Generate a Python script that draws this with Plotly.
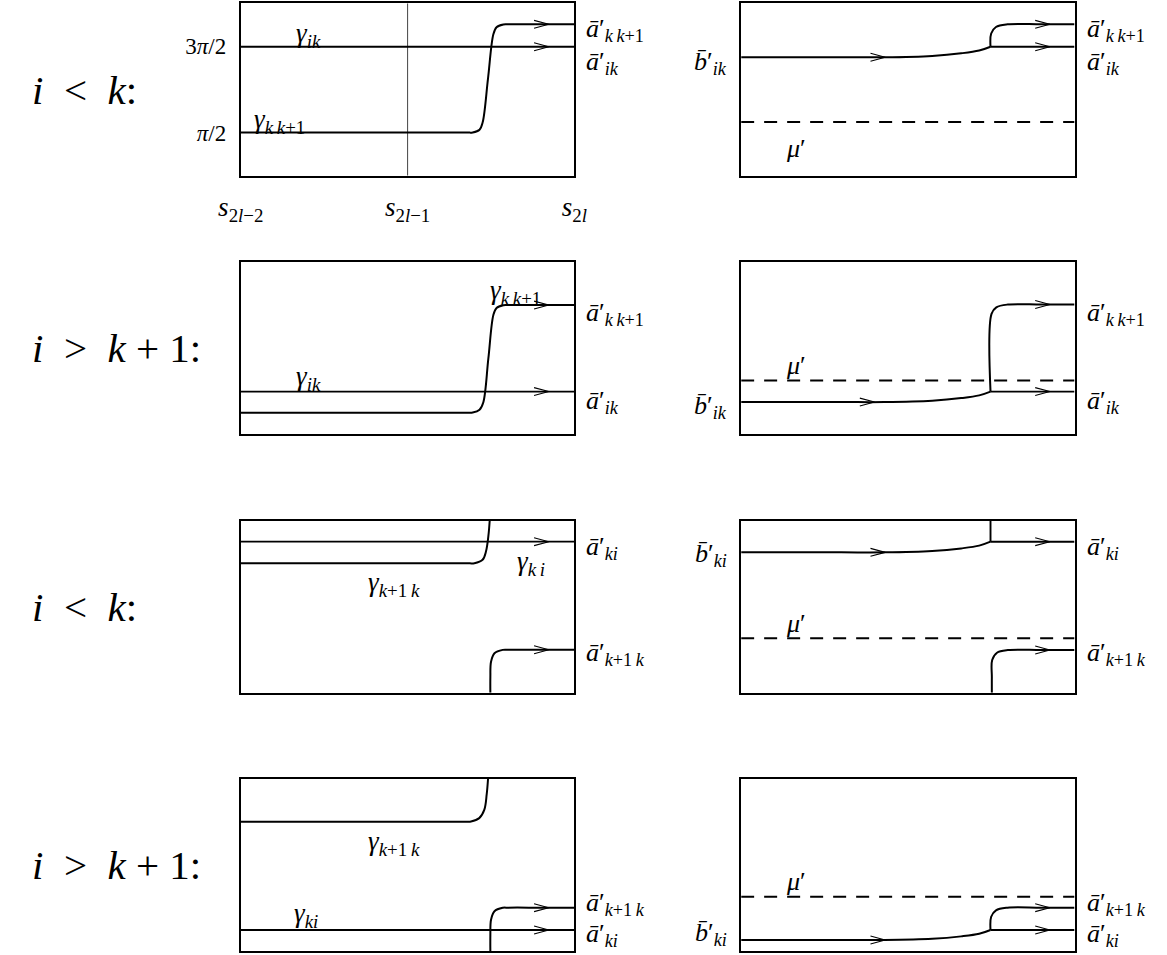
import plotly.graph_objects as go

# ------------------------------------------------------------------
# DATA  (each panel: x from s_{2l-2}=0 to s_{2l}=1, y from 0=bottom to 1=top)
# ------------------------------------------------------------------
X_TICK_VALS = [0.0, 0.5, 1.0]
X_TICK_TEXT = ["<i>s</i><sub>2<i>l</i>−2</sub>", "<i>s</i><sub>2<i>l</i>−1</sub>", "<i>s</i><sub>2<i>l</i></sub>"]
Y_TICK_VALS = [0.25, 0.75]
Y_TICK_TEXT = ["<i>π</i>/2", "3<i>π</i>/2"]
ROW_LABELS = ["<i>i</i>\u2002<\u2002<i>k</i>:", "<i>i</i>\u2002>\u2002<i>k</i> + 1:",
              "<i>i</i>\u2002<\u2002<i>k</i>:", "<i>i</i>\u2002>\u2002<i>k</i> + 1:"]

# Panel 1 (row 1, left)
P1_GIK_X = [0.0, 1.0]
P1_GIK_Y = [0.748, 0.748]
P1_GKK_X = [0.0, 0.5, 0.68, 0.695, 0.7155, 0.725, 0.741, 0.757, 0.7665, 0.787, 0.80, 0.9, 1.0]
P1_GKK_Y = [0.25, 0.25, 0.25, 0.251, 0.267, 0.31, 0.565, 0.82, 0.861, 0.877, 0.878, 0.878, 0.878]
P1_MID_X = [0.5, 0.5]
P1_MID_Y = [0.0, 1.0]
P1_ARROWS_X = [0.923, 0.923]
P1_ARROWS_Y = [0.878, 0.748]

# Panel 2 (row 1, right)
P2_B_X = [0.0, 0.3, 0.43, 0.573, 0.66, 0.714, 0.748]
P2_B_Y = [0.687, 0.687, 0.687, 0.695, 0.710, 0.726, 0.748]
P2_UP_X = [0.748, 0.750, 0.7644, 0.799, 0.9, 1.0]
P2_UP_Y = [0.748, 0.825, 0.8625, 0.878, 0.878, 0.878]
P2_FLAT_X = [0.748, 1.0]
P2_FLAT_Y = [0.748, 0.748]
P2_MU_X = [0.0, 1.0]
P2_MU_Y = [0.311, 0.311]
P2_ARROWS_X = [0.926, 0.926, 0.432]
P2_ARROWS_Y = [0.878, 0.748, 0.687]

# Panel 3 (row 2, left)
P3_GIK_X = [0.0, 1.0]
P3_GIK_Y = [0.247, 0.247]
P3_GKK_X = [0.0, 0.5, 0.68, 0.695, 0.7155, 0.727, 0.742, 0.757, 0.7665, 0.787, 0.80, 0.9, 1.0]
P3_GKK_Y = [0.124, 0.124, 0.124, 0.125, 0.141, 0.185, 0.44, 0.693, 0.734, 0.750, 0.751, 0.751, 0.751]
P3_ARROWS_X = [0.923, 0.923]
P3_ARROWS_Y = [0.751, 0.247]

# Panel 4 (row 2, right)
P4_B_X = [0.0, 0.3, 0.43, 0.573, 0.66, 0.714, 0.748]
P4_B_Y = [0.186, 0.186, 0.186, 0.194, 0.209, 0.225, 0.247]
P4_UP_X = [0.748, 0.751, 0.7654, 0.80, 0.9, 1.0]
P4_UP_Y = [0.247, 0.700, 0.7375, 0.754, 0.754, 0.754]
P4_FLAT_X = [0.748, 1.0]
P4_FLAT_Y = [0.247, 0.247]
P4_MU_X = [0.0, 1.0]
P4_MU_Y = [0.311, 0.311]
P4_ARROWS_X = [0.926, 0.926, 0.40]
P4_ARROWS_Y = [0.754, 0.247, 0.186]

# Panel 5 (row 3, left)
P5_GKI_X = [0.0, 1.0]
P5_GKI_Y = [0.878, 0.878]
P5_TOP_X = [0.0, 0.5, 0.685, 0.70, 0.7247, 0.735, 0.742, 0.746]
P5_TOP_Y = [0.752, 0.752, 0.752, 0.753, 0.7725, 0.822, 0.91, 1.0]
P5_BOT_X = [0.748, 0.748, 0.750, 0.7603, 0.785, 0.80, 0.9, 1.0]
P5_BOT_Y = [0.0, 0.09, 0.18, 0.2295, 0.249, 0.25, 0.25, 0.25]
P5_ARROWS_X = [0.923, 0.923]
P5_ARROWS_Y = [0.878, 0.25]

# Panel 6 (row 3, right)
P6_B_X = [0.0, 0.3, 0.43, 0.573, 0.66, 0.714, 0.748]
P6_B_Y = [0.816, 0.816, 0.816, 0.824, 0.839, 0.855, 0.878]
P6_VERT_X = [0.748, 0.748]
P6_VERT_Y = [0.878, 1.0]
P6_FLAT_X = [0.748, 1.0]
P6_FLAT_Y = [0.878, 0.878]
P6_BOT_X = [0.752, 0.752, 0.753, 0.7674, 0.80, 0.9, 1.0]
P6_BOT_Y = [0.0, 0.09, 0.19, 0.2325, 0.248, 0.248, 0.248]
P6_MU_X = [0.0, 1.0]
P6_MU_Y = [0.316, 0.316]
P6_ARROWS_X = [0.926, 0.926, 0.432]
P6_ARROWS_Y = [0.878, 0.248, 0.816]

# Panel 7 (row 4, left)
P7_TOP_X = [0.0, 0.5, 0.675, 0.69, 0.7147, 0.73, 0.737, 0.741]
P7_TOP_Y = [0.752, 0.752, 0.752, 0.753, 0.7725, 0.822, 0.91, 1.0]
P7_GKI_X = [0.0, 1.0]
P7_GKI_Y = [0.122, 0.122]
P7_BOT_X = [0.748, 0.748, 0.750, 0.7603, 0.785, 0.80, 0.9, 1.0]
P7_BOT_Y = [0.0, 0.09, 0.182, 0.2315, 0.251, 0.252, 0.252, 0.252]
P7_ARROWS_X = [0.923, 0.923]
P7_ARROWS_Y = [0.252, 0.122]

# Panel 8 (row 4, right)
P8_B_X = [0.0, 0.3, 0.43, 0.573, 0.66, 0.714, 0.748]
P8_B_Y = [0.064, 0.064, 0.064, 0.071, 0.085, 0.100, 0.122]
P8_UP_X = [0.748, 0.750, 0.7644, 0.799, 0.9, 1.0]
P8_UP_Y = [0.122, 0.199, 0.2365, 0.252, 0.252, 0.252]
P8_FLAT_X = [0.748, 1.0]
P8_FLAT_Y = [0.122, 0.122]
P8_MU_X = [0.0, 1.0]
P8_MU_Y = [0.316, 0.316]
P8_ARROWS_X = [0.926, 0.926, 0.432]
P8_ARROWS_Y = [0.252, 0.122, 0.064]

# ------------------------------------------------------------------
# FIGURE
# ------------------------------------------------------------------
W, H = 1167, 955
FONT = "'Liberation Serif', 'Times New Roman', serif"
COLS_PX = [(224.7, 569.0), (741.0, 1085.0)]
ROWS_PX = [(3.3, 175.7), (262.3, 434.0), (520.7, 692.7), (779.0, 951.0)]

fig = go.Figure()


def ax(p):
    return ("x" if p == 1 else f"x{p}"), ("y" if p == 1 else f"y{p}")


def curve(p, xs, ys, width=2.0, shape="spline", dash="solid", color="black"):
    xa, ya = ax(p)
    fig.add_trace(go.Scatter(
        x=xs, y=ys, mode="lines", xaxis=xa, yaxis=ya,
        line=dict(color=color, width=width, shape=shape, smoothing=1.0, dash=dash),
        hoverinfo="skip", showlegend=False))


def arrows(p, tips_x, tips_y):
    L, h = 0.044, 0.023  # chevron size in panel units
    xs, ys = [], []
    for tx, ty in zip(tips_x, tips_y):
        xs += [tx - L, tx, tx - L, None]
        ys += [ty + h, ty, ty - h, None]
    curve(p, xs, ys, width=1.1, shape="linear")


DASH = "13px,10px"

# panel 1
curve(1, P1_MID_X, P1_MID_Y, width=1.0, shape="linear", color="#444")
curve(1, P1_GIK_X, P1_GIK_Y, width=1.8, shape="linear")
curve(1, P1_GKK_X, P1_GKK_Y)
arrows(1, P1_ARROWS_X, P1_ARROWS_Y)
# panel 2
curve(2, P2_MU_X, P2_MU_Y, width=2.0, shape="linear", dash=DASH)
curve(2, P2_B_X, P2_B_Y)
curve(2, P2_UP_X, P2_UP_Y)
curve(2, P2_FLAT_X, P2_FLAT_Y, width=1.9, shape="linear")
arrows(2, P2_ARROWS_X, P2_ARROWS_Y)
# panel 3
curve(3, P3_GIK_X, P3_GIK_Y, width=1.8, shape="linear")
curve(3, P3_GKK_X, P3_GKK_Y)
arrows(3, P3_ARROWS_X, P3_ARROWS_Y)
# panel 4
curve(4, P4_MU_X, P4_MU_Y, width=2.0, shape="linear", dash=DASH)
curve(4, P4_B_X, P4_B_Y)
curve(4, P4_UP_X, P4_UP_Y)
curve(4, P4_FLAT_X, P4_FLAT_Y, width=1.9, shape="linear")
arrows(4, P4_ARROWS_X, P4_ARROWS_Y)
# panel 5
curve(5, P5_GKI_X, P5_GKI_Y, width=1.8, shape="linear")
curve(5, P5_TOP_X, P5_TOP_Y)
curve(5, P5_BOT_X, P5_BOT_Y)
arrows(5, P5_ARROWS_X, P5_ARROWS_Y)
# panel 6
curve(6, P6_MU_X, P6_MU_Y, width=2.0, shape="linear", dash=DASH)
curve(6, P6_B_X, P6_B_Y)
curve(6, P6_VERT_X, P6_VERT_Y, width=1.9, shape="linear")
curve(6, P6_FLAT_X, P6_FLAT_Y, width=1.9, shape="linear")
curve(6, P6_BOT_X, P6_BOT_Y)
arrows(6, P6_ARROWS_X, P6_ARROWS_Y)
# panel 7
curve(7, P7_TOP_X, P7_TOP_Y)
curve(7, P7_GKI_X, P7_GKI_Y, width=1.8, shape="linear")
curve(7, P7_BOT_X, P7_BOT_Y)
arrows(7, P7_ARROWS_X, P7_ARROWS_Y)
# panel 8
curve(8, P8_MU_X, P8_MU_Y, width=2.0, shape="linear", dash=DASH)
curve(8, P8_B_X, P8_B_Y)
curve(8, P8_UP_X, P8_UP_Y)
curve(8, P8_FLAT_X, P8_FLAT_Y, width=1.9, shape="linear")
arrows(8, P8_ARROWS_X, P8_ARROWS_Y)

# axes
layout = dict(width=W, height=H, margin=dict(l=0, r=0, t=0, b=0),
              paper_bgcolor="white", plot_bgcolor="white", showlegend=False,
              font=dict(family=FONT, color="black"))
for p in range(1, 9):
    r, c = (p - 1) // 2, (p - 1) % 2
    x0, x1 = COLS_PX[c]
    t, b = ROWS_PX[r]
    base = dict(range=[0, 1], showgrid=False, zeroline=False, showline=True, mirror=True,
                linecolor="black", linewidth=2, ticks="", fixedrange=True, showticklabels=False)
    xa = dict(base, domain=[x0 / W, x1 / W], anchor=("y" if p == 1 else f"y{p}"))
    ya = dict(base, domain=[1 - b / H, 1 - t / H], anchor=("x" if p == 1 else f"x{p}"))
    if p == 1:
        xa.update(showticklabels=True, tickvals=X_TICK_VALS, ticktext=X_TICK_TEXT,
                  tickfont=dict(size=27, family=FONT), ticklabelstandoff=6)
        ya.update(showticklabels=True, tickvals=Y_TICK_VALS, ticktext=Y_TICK_TEXT,
                  tickfont=dict(size=23, family=FONT), ticklabelstandoff=8)
    layout["xaxis" if p == 1 else f"xaxis{p}"] = xa
    layout["yaxis" if p == 1 else f"yaxis{p}"] = ya
fig.update_layout(**layout)


# annotations
def ann(p, text, x, y, xanchor="left", xshift=0, yshift=0, size=26):
    xa, ya = ax(p)
    fig.add_annotation(text=text, x=x, y=y, xref=xa, yref=ya, xanchor=xanchor, yanchor="middle",
                       xshift=xshift, yshift=yshift, showarrow=False,
                       font=dict(family=FONT, size=size, color="black"))


A_KK1 = "<i>ā</i>′<sub><i>k</i>\u2009<i>k</i>+1</sub>"
A_IK = "<i>ā</i>′<sub><i>ik</i></sub>"
A_KI = "<i>ā</i>′<sub><i>ki</i></sub>"
A_K1K = "<i>ā</i>′<sub><i>k</i>+1\u2009<i>k</i></sub>"
B_IK = "<i>b\u0304</i>′<sub><i>ik</i></sub>"
B_KI = "<i>b\u0304</i>′<sub><i>ki</i></sub>"
MU = "<i>μ</i>′"
G_IK = "<i>γ</i><sub><i>ik</i></sub>"
G_KK1 = "<i>γ</i><sub><i>k</i>\u2009<i>k</i>+1</sub>"
G_K1K = "<i>γ</i><sub><i>k</i>+1\u2009<i>k</i></sub>"
G_KI_S = "<i>γ</i><sub><i>k</i>\u2009<i>i</i></sub>"
G_KI = "<i>γ</i><sub><i>ki</i></sub>"
RX, LX = 10, -12
GS = 27

# row labels
for r, lab in enumerate(ROW_LABELS):
    p = 2 * r + 1
    fig.add_annotation(text=lab, xref="paper", x=7 / W, xanchor="left",
                       yref=("y domain" if p == 1 else f"y{p} domain"), y=0.5, yanchor="middle",
                       showarrow=False, font=dict(family=FONT, size=41, color="black"))

# row 1
ann(1, G_IK, 0.16, P1_GIK_Y[0], yshift=12, size=GS)
ann(1, G_KK1, 0.033, P1_GKK_Y[0], yshift=12, size=GS)
ann(1, A_KK1, 1, P1_GKK_Y[-1], xshift=RX, yshift=-6)
ann(1, A_IK, 1, P1_GIK_Y[-1], xshift=RX, yshift=-16)
ann(2, A_KK1, 1, P2_UP_Y[-1], xshift=RX, yshift=-6)
ann(2, A_IK, 1, P2_FLAT_Y[-1], xshift=RX, yshift=-16)
ann(2, B_IK, 0, P2_B_Y[0], xanchor="right", xshift=LX, yshift=-6)
ann(2, MU, 0.128, 0.16)
# row 2
ann(3, G_IK, 0.16, P3_GIK_Y[0], yshift=14, size=GS)
ann(3, G_KK1, 0.74, P3_GKK_Y[-1], yshift=13, size=GS)
ann(3, A_KK1, 1, P3_GKK_Y[-1], xshift=RX, yshift=-9)
ann(3, A_IK, 1, P3_GIK_Y[-1], xshift=RX, yshift=-10)
ann(4, A_KK1, 1, P4_UP_Y[-1], xshift=RX, yshift=-9)
ann(4, A_IK, 1, P4_FLAT_Y[-1], xshift=RX, yshift=-10)
ann(4, B_IK, 0, P4_B_Y[0], xanchor="right", xshift=LX, yshift=-5)
ann(4, MU, 0.128, P4_MU_Y[0], yshift=15)
# row 3
ann(5, G_KI_S, 0.823, P5_GKI_Y[0], yshift=-21, size=GS)
ann(5, G_K1K, 0.376, P5_TOP_Y[0], yshift=-21, size=GS)
ann(5, A_KI, 1, P5_GKI_Y[-1], xshift=RX, yshift=-6)
ann(5, A_K1K, 1, P5_BOT_Y[-1], xshift=RX, yshift=-4)
ann(6, A_KI, 1, P6_FLAT_Y[-1], xshift=RX, yshift=-6)
ann(6, A_K1K, 1, P6_BOT_Y[-1], xshift=RX, yshift=-4)
ann(6, B_KI, 0, P6_B_Y[0], xanchor="right", xshift=LX, yshift=-3)
ann(6, MU, 0.128, P6_MU_Y[0], yshift=15)
# row 4
ann(7, G_K1K, 0.376, P7_TOP_Y[0], yshift=-21, size=GS)
ann(7, G_KI, 0.155, P7_GKI_Y[0], yshift=15, size=GS)
ann(7, A_K1K, 1, P7_BOT_Y[-1], xshift=RX, yshift=4)
ann(7, A_KI, 1, P7_GKI_Y[-1], xshift=RX, yshift=-5)
ann(8, A_K1K, 1, P8_UP_Y[-1], xshift=RX, yshift=4)
ann(8, A_KI, 1, P8_FLAT_Y[-1], xshift=RX, yshift=-5)
ann(8, B_KI, 0, P8_B_Y[0], xanchor="right", xshift=LX, yshift=6)
ann(8, MU, 0.128, P8_MU_Y[0], yshift=15)

fig.write_html("out.html", config={"displayModeBar": False},
               post_script="document.body.style.margin='0px';")
